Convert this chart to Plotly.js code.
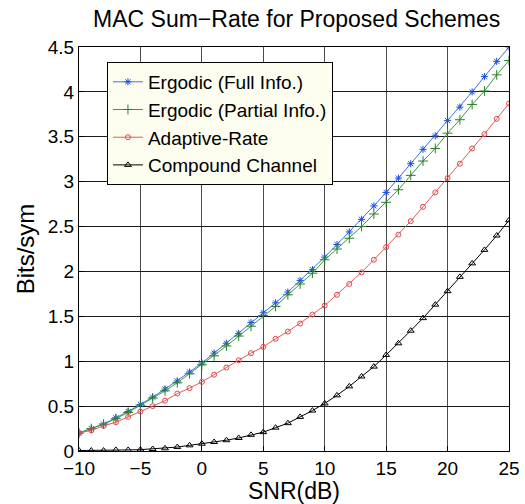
<!DOCTYPE html>
<html>
<head>
<meta charset="utf-8">
<script src="https://cdn.plot.ly/plotly-3.0.1.min.js"></script>
<style>html,body{margin:0;padding:0;background:#fff;}#chart{width:525px;height:504px;}</style>
</head>
<body>
<div id="chart"></div>
<script>
const snr = [-10,-9,-8,-7,-6,-5,-4,-3,-2,-1,0,1,2,3,4,5,6,7,8,9,10,11,12,13,14,15,16,17,18,19,20,21,22,23,24,25];
const ergodicFull = [0.20,0.25,0.30,0.37,0.44,0.52,0.60,0.69,0.78,0.88,0.98,1.09,1.20,1.31,1.43,1.54,1.65,1.77,1.90,2.02,2.16,2.30,2.44,2.58,2.73,2.88,3.04,3.20,3.36,3.51,3.68,3.83,4.00,4.17,4.34,4.50];
const ergodicPartial = [0.20,0.25,0.30,0.36,0.43,0.51,0.59,0.67,0.76,0.86,0.96,1.06,1.17,1.28,1.39,1.51,1.61,1.74,1.86,1.98,2.13,2.25,2.37,2.50,2.64,2.77,2.91,3.07,3.23,3.37,3.54,3.69,3.86,4.01,4.19,4.35];
const adaptiveRate = [0.20,0.23,0.28,0.32,0.38,0.44,0.50,0.56,0.64,0.70,0.77,0.85,0.93,1.01,1.09,1.16,1.25,1.33,1.42,1.52,1.62,1.74,1.86,1.99,2.13,2.27,2.41,2.56,2.72,2.88,3.04,3.20,3.37,3.53,3.70,3.87];
const compound = [0.005,0.005,0.005,0.012,0.012,0.015,0.022,0.03,0.044,0.063,0.081,0.10,0.12,0.145,0.18,0.21,0.26,0.31,0.38,0.45,0.53,0.62,0.72,0.83,0.94,1.07,1.20,1.34,1.48,1.63,1.78,1.94,2.09,2.24,2.40,2.57];
const names = ['Ergodic (Full Info.)','Ergodic (Partial Info.)','Adaptive-Rate','Compound Channel'];
const xTickVals = [-10,-5,0,5,10,15,20,25];
const yTickVals = [0,0.5,1,1.5,2,2.5,3,3.5,4,4.5];

const font = 'Liberation Sans, Arial, Helvetica, sans-serif';
function tr(y, name, lineColor, markerColor, symbol, size) {
  return {x: snr, y: y, name: name, type: 'scatter', mode: 'lines+markers',
    line: {color: lineColor, width: 1},
    marker: {symbol: symbol, size: size, color: markerColor, line: {color: markerColor, width: 1}}};
}
const data = [
  tr(ergodicFull, names[0], '#3d74e6', '#1a4fe0', 'asterisk-open', 6),
  tr(ergodicPartial, names[1], '#3a9a3a', '#2a7f2a', 'cross-thin-open', 7),
  tr(adaptiveRate, names[2], '#e55a5a', '#e04848', 'circle-open', 5),
  tr(compound, names[3], '#000000', '#000000', 'triangle-up-open', 6)
];
const layout = {
  width: 525, height: 504,
  margin: {l: 79, r: 16, t: 47, b: 53},
  paper_bgcolor: '#ffffff', plot_bgcolor: '#ffffff',
  font: {family: font, color: '#000'},
  title: {text: 'MAC Sum\u2212Rate for Proposed Schemes', font: {size: 23, family: font, color: '#000'}, x: 0.565, xanchor: 'center', y: 0.962, yanchor: 'middle'},
  xaxis: {range: [-10, 25], tickvals: xTickVals, ticks: 'inside', ticklen: 5, tickcolor: '#000',
    showline: true, linecolor: '#000', linewidth: 1, mirror: true,
    showgrid: true, gridcolor: '#4a4a4a', gridwidth: 1, zeroline: false,
    tickfont: {size: 19, family: font},
    title: {text: 'SNR(dB)', font: {size: 23, family: font}, standoff: 0}},
  yaxis: {range: [0, 4.5], tickvals: yTickVals, ticks: 'inside', ticklen: 5, tickcolor: '#000',
    showline: true, linecolor: '#000', linewidth: 1, mirror: true,
    showgrid: true, gridcolor: '#1a1a1a', gridwidth: 1, zeroline: false,
    tickfont: {size: 19, family: font},
    title: {text: 'Bits/sym', font: {size: 24, family: font}, standoff: 6}},
  legend: {x: 0.065, y: 0.963, xanchor: 'left', yanchor: 'top',
    bgcolor: '#fdfdf0', bordercolor: '#000', borderwidth: 1,
    font: {size: 19, family: font}, itemwidth: 30, tracegroupgap: 0},
  showlegend: true
};
Plotly.newPlot('chart', data, layout, {displayModeBar: false, staticPlot: true});
</script>
</body>
</html>
